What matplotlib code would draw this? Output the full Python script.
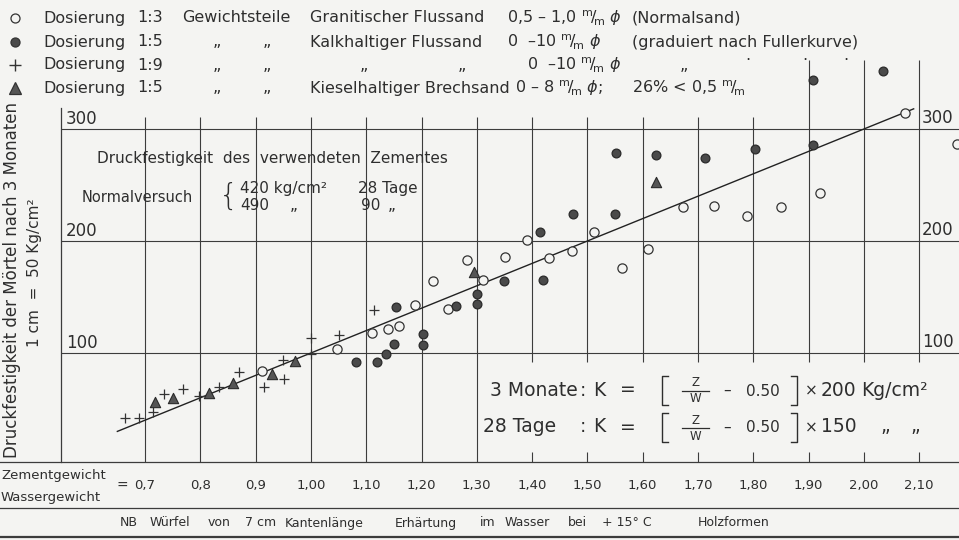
import matplotlib
matplotlib.use("Agg")
import matplotlib.pyplot as plt
import matplotlib.transforms as mtransforms

# ---------------- data (Z/W ratio, compressive strength kg/cm2) ----------------
open_x = [0.911, 1.047, 1.111, 1.139, 1.159, 1.189, 1.220, 1.248, 1.282, 1.311, 1.351, 1.391,
          1.431, 1.472, 1.512, 1.563, 1.610, 1.673, 1.729, 1.789, 1.850, 1.921, 2.074, 2.168]
open_y = [84, 104, 118, 121, 124, 143, 164, 139, 183, 165, 186, 201,
          185, 191, 208, 176, 193, 230, 231, 222, 230, 243, 314, 287]

filled_x = [1.081, 1.120, 1.135, 1.151, 1.153, 1.202, 1.202, 1.262, 1.300, 1.301, 1.349,
            1.414, 1.420, 1.474, 1.550, 1.552, 1.624, 1.713, 1.803, 1.908, 1.908, 2.035]
filled_y = [92, 92, 99, 108, 141, 107, 117, 142, 153, 144, 164,
            208, 165, 224, 224, 279, 277, 274, 282, 286, 344, 352]

plus_x = [0.663, 0.690, 0.714, 0.735, 0.768, 0.798, 0.834, 0.870, 0.916, 0.949, 0.952,
          1.001, 1.001, 1.051, 1.115]
plus_y = [42, 42, 47, 63, 68, 62, 70, 83, 70, 94, 77, 99, 113, 116, 138]

tri_x = [0.718, 0.751, 0.816, 0.860, 0.930, 0.971, 1.295, 1.624]
tri_y = [56, 60, 64, 73, 81, 93, 172, 253]

fit_x = [0.65, 2.09]
fit_y = [30, 318]

x_ticks = [0.7, 0.8, 0.9, 1.0, 1.1, 1.2, 1.3, 1.4, 1.5, 1.6, 1.7, 1.8, 1.9, 2.0, 2.1]
x_tick_labels = ["0,7", "0,8", "0,9", "1,00", "1,10", "1,20", "1,30", "1,40", "1,50",
                 "1,60", "1,70", "1,80", "1,90", "2,00", "2,10"]
y_grid = [100, 200, 300]
y_grid_labels = ["100", "200", "300"]

# ---------------- figure ----------------
W, H = 959, 540
BG = "#f4f4f2"
INK = "#2e2e2e"
LINE = "#3c3c3c"
plt.rcParams["font.family"] = ["DejaVu Sans"]
plt.rcParams["mathtext.fontset"] = "dejavusans"

fig = plt.figure(figsize=(W / 100, H / 100), dpi=100, facecolor=BG)
ax = fig.add_axes([0, 0, 1, 1])
ax.set_facecolor(BG)
ax.axis("off")
# x: 0.7 -> 145 px, 0.1 per 55.3 px ; y: 0 -> 465 px, 100 per 112 px
ax.set_xlim(0.7 - 145 / 553, 0.7 + (W - 145) / 553)
ax.set_ylim((465 - H) / 1.12, 465 / 1.12)

pix = mtransforms.Affine2D().scale(1 / W, -1 / H).translate(0, 1) + fig.transFigure


def ptext(x, y, s, size=10, ha="left", va="center", **kw):
    fig.text(x, y, s, transform=pix, fontsize=size, ha=ha, va=va, color=INK, **kw)


def pline(xs, ys, lw=0.8, color=LINE, **kw):
    fig.add_artist(plt.Line2D(xs, ys, transform=pix, color=color, lw=lw, **kw))


# ---------------- grid ----------------
bottom_k = (465 - 462) / 1.12
for v in x_ticks:
    top = 362 if v > 1.85 else 311
    if v < 1.35:
        ax.vlines(v, bottom_k, top, color=LINE, lw=0.8)
    else:
        ax.vlines(v, 92, top, color=LINE, lw=0.8)
        ax.vlines(v, bottom_k, 11.5, color=LINE, lw=0.8)
x_left = 0.7 + (61 - 145) / 553
x_right = 0.7 + (W - 145) / 553
for k in y_grid:
    ax.hlines(k, x_left, x_right, color=LINE, lw=0.8)

# frame lines
pline([61, 61], [108, 462], lw=0.9)
pline([0, W], [462, 462], lw=0.9)
pline([0, W], [508, 508], lw=0.9)
pline([0, W], [537, 537], lw=1.6)

# ---------------- fit line ----------------
ax.plot(fit_x, fit_y, color="#222222", lw=1.0)

# ---------------- points ----------------
ax.scatter(open_x, open_y, s=44, facecolor=BG, edgecolor="#333333", lw=0.9, zorder=3, clip_on=False)
ax.scatter(filled_x, filled_y, s=40, facecolor="#4a4a4a", edgecolor="#2a2a2a", lw=0.9, zorder=3)
ax.scatter(plus_x, plus_y, s=55, marker="+", color="#333333", lw=0.9, zorder=3)
ax.scatter(tri_x, tri_y, s=55, marker="^", facecolor="#555555", edgecolor="#2a2a2a", lw=0.8, zorder=3)

# ---------------- y grid labels ----------------
for k, lab in zip(y_grid, y_grid_labels):
    py = 465 - 1.12 * k
    ptext(66, py - 10, lab, size=12)
    ptext(922, py - 11, lab, size=12)

# ---------------- axis labels ----------------
ptext(12, 280, "Druckfestigkeit der Mörtel nach 3 Monaten", size=12, ha="center", rotation=90)
ptext(35, 273, "1 cm  =  50 Kg/cm²", size=11, ha="center", rotation=90)

ptext(1, 475, "Zementgewicht", size=9.5)
ptext(1, 497, "Wassergewicht", size=9.5)
ptext(117, 486, "=", size=10)
for v, lab in zip(x_ticks, x_tick_labels):
    ax.text(v, (465 - 486) / 1.12, lab, fontsize=9.5, ha="center", va="center", color=INK)

for x, w in [(120, "NB"), (150, "Würfel"), (208, "von"), (245, "7 cm"), (285, "Kantenlänge"),
             (395, "Erhärtung"), (480, "im"), (505, "Wasser"), (568, "bei"), (602, "+ 15° C"),
             (698, "Holzformen")]:
    ptext(x, 523, w, size=9)

# ---------------- legend ----------------
mm = r"$^{\mathrm{m}}\!/\!_{\mathrm{m}}$"
rows_y = [18, 42, 65, 88]
leg_x = 15
for y, (mk, fc) in zip(rows_y, [("o", BG), ("o", "#4a4a4a"), ("+", None), ("^", "#555555")]):
    if mk == "+":
        fig.add_artist(plt.Line2D([leg_x], [y], transform=pix, marker="+", ms=9, mew=1.0, color="#333333"))
    else:
        fig.add_artist(plt.Line2D([leg_x], [y], transform=pix, marker=mk, ms=6.5 if mk == "o" else 8,
                                  mfc=fc, mec="#333333", mew=0.9, ls="none"))

LS = 11.5
for y, dos in zip(rows_y, ["1:3", "1:5", "1:9", "1:5"]):
    ptext(43, y, "Dosierung", size=LS)
    ptext(137, y, dos, size=LS)
ptext(182, rows_y[0], "Gewichtsteile", size=LS)
for y in rows_y[1:]:
    ptext(213, y, "„", size=LS)
    ptext(263, y, "„", size=LS)
ptext(310, rows_y[0], "Granitischer Flussand", size=LS)
ptext(310, rows_y[1], "Kalkhaltiger Flussand", size=LS)
ptext(360, rows_y[2], "„", size=LS)
ptext(458, rows_y[2], "„", size=LS)
ptext(310, rows_y[3], "Kieselhaltiger Brechsand", size=LS)
ptext(515, rows_y[3], "0 – 8 " + mm + r" $\phi$;", size=LS)
ptext(632, rows_y[3], "26% < 0,5 " + mm, size=LS)
ptext(507, rows_y[0], "0,5 – 1,0 " + mm + r" $\phi$", size=LS)
ptext(632, rows_y[0], "(Normalsand)", size=LS)
ptext(507, rows_y[1], "0  –10 " + mm + r" $\phi$", size=LS)
ptext(632, rows_y[1], "(graduiert nach Fullerkurve)", size=LS)
ptext(527, rows_y[2], "0  –10 " + mm + r" $\phi$", size=LS)
ptext(680, rows_y[2], "„", size=LS)
for x in (745, 802, 843):
    ptext(x, rows_y[2] - 4, "·", size=LS)

# ---------------- in-plot notes ----------------
NS = 11
ptext(97, 158, "Druckfestigkeit  des  verwendeten  Zementes", size=NS)
ptext(82, 197, "Normalversuch", size=10.5)
ptext(219, 196, "{", size=22, fontweight="light")
ptext(240, 188, "420 kg/cm²", size=NS)
ptext(358, 188, "28 Tage", size=NS)
ptext(240, 206, "490", size=NS)
ptext(290, 206, "„", size=NS)
ptext(361, 206, "90", size=NS)
ptext(388, 206, "„", size=NS)

# ---------------- formulas ----------------
FS = 13.5
for yc, lead, mult, unit in [(390, "3 Monate", "200", "Kg/cm²"), (427, "28 Tage", "150", "„      „")]:
    ptext(490 if lead.startswith("3") else 483, yc, lead, size=FS)
    ptext(580, yc, ":", size=FS)
    ptext(593, yc, "K", size=FS)
    ptext(620, yc, "=", size=FS)
    # brackets
    top, bot = yc - 14, yc + 15
    pline([668, 662, 662, 668], [top, top, bot, bot], lw=1.0, color=INK)
    pline([791, 797, 797, 791], [top, top, bot, bot], lw=1.0, color=INK)
    # fraction Z / W
    ptext(695, yc - 7, "Z", size=8.5, ha="center")
    pline([682, 709], [yc + 1, yc + 1], lw=0.9, color=INK)
    ptext(695, yc + 9, "W", size=8.5, ha="center")
    ptext(727, yc, "–", size=11, ha="center")
    ptext(746, yc + 1, "0.50", size=11)
    ptext(805, yc + 1, "×", size=11)
    ptext(821, yc, mult, size=FS)
    if unit.startswith("K"):
        ptext(861, yc, unit, size=FS)
    else:
        ptext(880, yc, "„", size=FS)
        ptext(910, yc, "„", size=FS)

fig.savefig("out.png", dpi=100, facecolor=BG)
